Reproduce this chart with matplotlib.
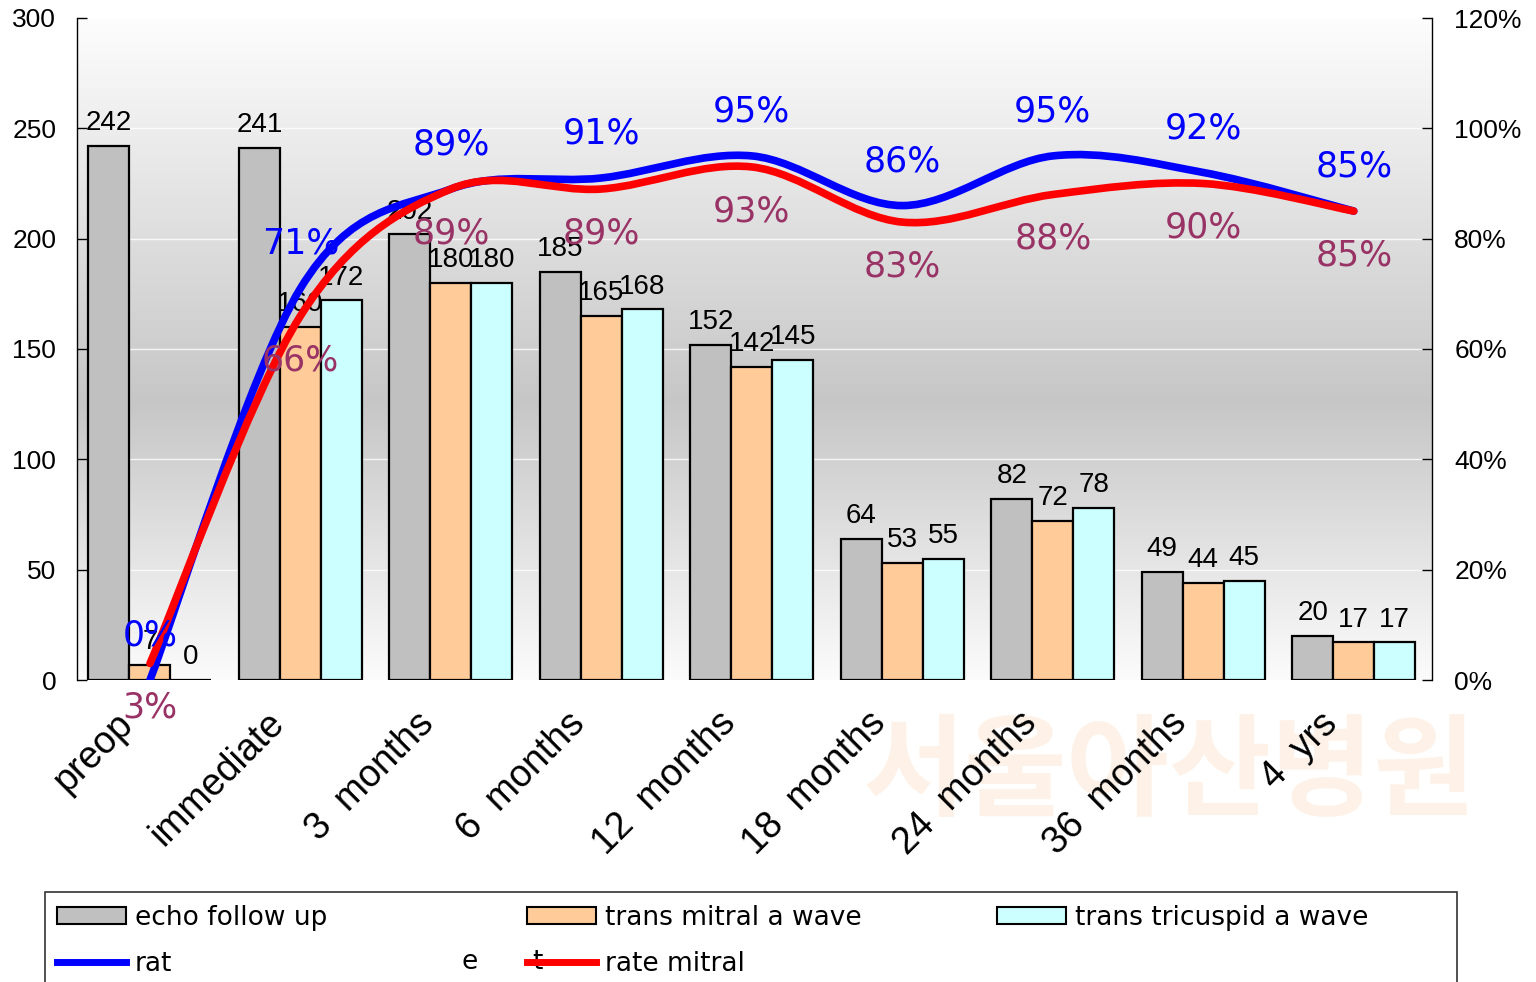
import numpy as np
import matplotlib
matplotlib.use("Agg")
import matplotlib.pyplot as plt
from matplotlib.path import Path
from matplotlib.patches import PathPatch, Patch, Rectangle
from matplotlib.lines import Line2D
from matplotlib.ticker import FuncFormatter, MultipleLocator
import matplotlib.transforms as mtransforms

plt.rcParams["font.family"] = ["Liberation Sans", "DejaVu Sans"]

# ---------------- data ----------------
categories = ["preop", "immediate", "3  months", "6  months", "12  months",
              "18  months", "24  months", "36  months", "4  yrs"]
echo_follow_up = [242, 241, 202, 185, 152, 64, 82, 49, 20]
trans_mitral = [7, 160, 180, 165, 142, 53, 72, 44, 17]
trans_tricuspid = [0, 172, 180, 168, 145, 55, 78, 45, 17]
rate_tricuspid = [0.00, 0.71, 0.89, 0.91, 0.95, 0.86, 0.95, 0.92, 0.85]
rate_mitral = [0.03, 0.66, 0.89, 0.89, 0.93, 0.83, 0.88, 0.90, 0.85]

W, H = 1536, 982
fig = plt.figure(figsize=(W / 100, H / 100), dpi=100)
fig.patch.set_facecolor("white")

# faint watermark behind chart
fig.text(1170 / W, 1 - 775 / H, "서울아산병원", fontsize=80, color="#FEF2E8",
         family=["Noto Sans CJK KR", "DejaVu Sans"], ha="center", va="center",
         zorder=-5, fontweight="bold")

ax = fig.add_axes([77 / W, 1 - 680 / H, (1432 - 77) / W, (680 - 18) / H])
ax.set_facecolor("none")

# gradient background
grad = np.concatenate([np.linspace(0.99, 0.78, 58), np.linspace(0.78, 0.985, 42)])
img = np.dstack([grad, grad, grad]).reshape(100, 1, 3)
ax.imshow(img, extent=[0, 1, 0, 1], transform=ax.transAxes, aspect="auto",
          zorder=0, interpolation="bilinear")

x = np.arange(len(categories))
bw = 0.2725
colors = ["#C0C0C0", "#FFCC99", "#CCFFFF"]
series = [echo_follow_up, trans_mitral, trans_tricuspid]
for i, (vals, c) in enumerate(zip(series, colors)):
    b = ax.bar(x + (i - 1) * bw, vals, bw, color=c, edgecolor="black",
               linewidth=1.6, zorder=3)
    ax.bar_label(b, labels=[str(v) for v in vals], padding=7, fontsize=20,
                 color="black", zorder=4)

ax.set_xlim(-0.485, 8.52)
ax.set_ylim(0, 300)
ax.yaxis.set_major_locator(MultipleLocator(50))
ax.grid(axis="y", color="white", linewidth=1.0, alpha=0.8, zorder=1)
ax.set_axisbelow(True)
for s in ["top", "bottom", "right"]:
    ax.spines[s].set_visible(False)
ax.spines["left"].set_linewidth(1.0)
ax.tick_params(axis="y", direction="in", length=7, width=1, pad=15,
               labelsize=19)
ax.set_xticks(x)
ax.set_xticklabels(categories, rotation=45, ha="right", va="center",
                   rotation_mode="anchor", fontsize=27)
ax.tick_params(axis="x", length=0, pad=0)
offset = mtransforms.ScaledTranslation(-22 / 100, -38 / 100, fig.dpi_scale_trans)
for lab in ax.get_xticklabels():
    lab.set_transform(lab.get_transform() + offset)

# secondary axis for rates
ax2 = ax.twinx()
ax2.set_ylim(0, 1.2)
ax2.yaxis.set_major_locator(MultipleLocator(0.2))
ax2.yaxis.set_major_formatter(FuncFormatter(lambda v, p: f"{v*100:.0f}%"))
ax2.tick_params(axis="y", direction="in", length=7, width=1, pad=16,
                labelsize=19)
for s in ["top", "bottom", "left"]:
    ax2.spines[s].set_visible(False)
ax2.spines["right"].set_linewidth(1.0)


def smooth_path(xs, ys):
    p = np.column_stack([xs, ys]).astype(float)
    n = len(p)
    verts = [p[0]]
    codes = [Path.MOVETO]
    for i in range(n - 1):
        p0 = p[i - 1] if i > 0 else p[i]
        p1, p2 = p[i], p[i + 1]
        p3 = p[i + 2] if i + 2 < n else p[i + 1]
        c1 = p1 + (p2 - p0) / 6
        c2 = p2 - (p3 - p1) / 6
        verts += [c1, c2, p2]
        codes += [Path.CURVE4] * 3
    return Path(verts, codes)


for vals, col in [(rate_tricuspid, "#0000FF"), (rate_mitral, "#FF0000")]:
    pp = PathPatch(smooth_path(x, vals), facecolor="none", edgecolor=col,
                   linewidth=5.5, capstyle="round", joinstyle="round", zorder=5)
    ax2.add_patch(pp)

for xi, v in zip(x, rate_tricuspid):
    ax2.annotate(f"{v*100:.0f}%", (xi, v), xytext=(0, 32),
                 textcoords="offset points", ha="center", va="center",
                 fontsize=25, color="#0000FF", family="DejaVu Sans", zorder=6)
for xi, v in zip(x, rate_mitral):
    ax2.annotate(f"{v*100:.0f}%", (xi, v), xytext=(0, -32),
                 textcoords="offset points", ha="center", va="center",
                 fontsize=25, color="#993366", family="DejaVu Sans", zorder=6)

# legend
frame = Rectangle((45 / W, -0.05), (1457 - 45) / W, 0.05 + 1 - 892 / H,
                  transform=fig.transFigure, fill=False, edgecolor="#333333",
                  linewidth=1.2, zorder=1)
fig.patches.append(frame)

h_echo = Patch(facecolor=colors[0], edgecolor="black", linewidth=1.5)
h_mit = Patch(facecolor=colors[1], edgecolor="black", linewidth=1.5)
h_tri = Patch(facecolor=colors[2], edgecolor="black", linewidth=1.5)
h_rt = Line2D([], [], color="#0000FF", linewidth=5)
h_rm = Line2D([], [], color="#FF0000", linewidth=5)

leg_kw = dict(loc="upper left", frameon=False, borderpad=0, borderaxespad=0,
              handlelength=2.6, handleheight=0.6, handletextpad=0.35,
              labelspacing=0.75, prop={"family": "DejaVu Sans", "size": 19})
top = 1 - 905 / H
fig.legend([h_echo, h_rt], ["echo follow up", "rat"],
           bbox_to_anchor=(57 / W, top), **leg_kw)
fig.legend([h_mit, h_rm], ["trans mitral a wave", "rate mitral"],
           bbox_to_anchor=(527 / W, top), **leg_kw)
fig.legend([h_tri], ["trans tricuspid a wave"],
           bbox_to_anchor=(997 / W, top), **leg_kw)
fig.text(470 / W, 1 - 962 / H, "e", fontsize=19, family="DejaVu Sans",
         ha="center", va="center")
fig.text(537 / W, 1 - 962 / H, "t", fontsize=19, family="DejaVu Sans",
         ha="center", va="center")

fig.savefig("out.png", dpi=100)
